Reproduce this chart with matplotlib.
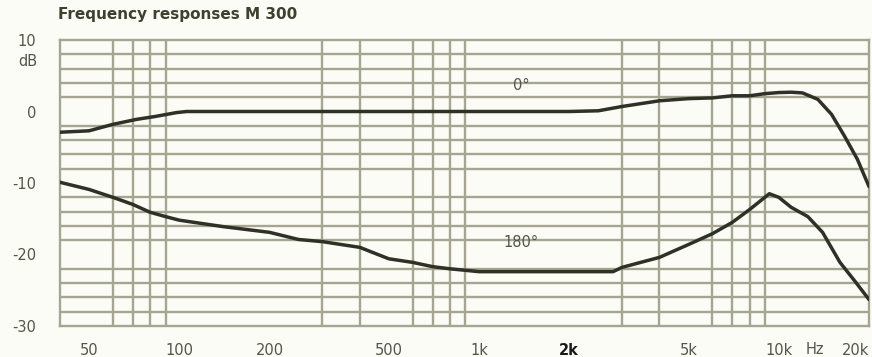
import matplotlib.pyplot as plt
from matplotlib.ticker import FixedLocator, NullFormatter

# 0 degree response (Hz, dB)
freq_0 = [40, 50, 60, 72, 83, 98, 106, 200, 500, 1000, 2000, 2500, 3000, 4000,
          5000, 6000, 7000, 8000, 9000, 10000, 11000, 12000, 13500, 15000,
          16600, 18300, 20000]
db_0 = [-2.9, -2.7, -1.8, -1.1, -0.7, -0.15, 0, 0, 0, 0, 0, 0.1, 0.7, 1.5,
        1.8, 1.9, 2.2, 2.2, 2.5, 2.65, 2.7, 2.6, 1.7, -0.4,
        -3.5, -6.7, -10.5]

# 180 degree response (Hz, dB)
freq_180 = [40, 50, 60, 70, 80, 90, 100, 140, 200, 250, 300, 400, 500, 600,
            700, 800, 1000, 2000, 2800, 3000, 4000, 5000, 6000, 7000, 8000,
            9300, 10000, 11000, 12500, 14000, 16000, 18000, 20000]
db_180 = [-9.9, -10.9, -12.0, -13.0, -14.1, -14.7, -15.2, -16.1, -16.9, -17.9,
          -18.2, -19.0, -20.6, -21.1, -21.7, -22.0, -22.4, -22.4, -22.4, -21.8,
          -20.4, -18.6, -17.1, -15.5, -13.7, -11.5, -12.0, -13.4, -14.7,
          -16.9, -21.1, -23.8, -26.3]

xtick_pos = [50, 100, 200, 500, 1000, 2000, 5000, 10000, 20000]
xtick_lab = ['50', '100', '200', '500', '1k', '2k', '5k', '10k', '20k']
ytick_pos = [10, 0, -10, -20, -30]
ytick_lab = ['10', '0', '-10', '-20', '-30']
vgrid = [50, 60, 70, 80, 90, 100, 200, 300, 400, 500, 600, 700, 800, 900,
         1000, 2000, 3000, 4000, 5000, 6000, 7000, 8000, 9000, 10000]
hgrid = list(range(-30, 11, 2))

bg = '#fbfcf6'
gridc = '#a5a592'
linec = '#2f3126'
textc = '#55554a'

fig = plt.figure(figsize=(8.72, 3.57), dpi=100, facecolor=bg)
ax = fig.add_axes([60/872, 31/357, 809/872, 286/357])
ax.set_facecolor(bg)

ax.set_xscale('log')
ax.set_xlim(40, 20000)
ax.set_ylim(-30, 10)

# grid
ax.xaxis.set_minor_locator(FixedLocator(vgrid))
ax.xaxis.set_minor_formatter(NullFormatter())
ax.yaxis.set_minor_locator(FixedLocator(hgrid))
ax.grid(which='minor', color=gridc, lw=1.7)
ax.set_axisbelow(True)
for s in ax.spines.values():
    s.set_color(gridc)
    s.set_linewidth(1.7)

ax.set_xticks(xtick_pos)
ax.set_xticklabels(xtick_lab)
ax.set_yticks(ytick_pos)
ax.set_yticklabels(ytick_lab)
ax.tick_params(which='both', length=0, labelsize=10.5, labelcolor=textc)
ax.tick_params(axis='x', pad=12)
ax.tick_params(axis='y', pad=17)
for lab in ax.get_xticklabels():
    if lab.get_text() == '2k':
        lab.set_fontweight('bold')
        lab.set_color('#1a1a1a')
    if lab.get_text() == '20k':
        lab.set_horizontalalignment('right')

ax.plot(freq_0, db_0, color=linec, lw=2.5, solid_capstyle='round',
        solid_joinstyle='round', zorder=3)
ax.plot(freq_180, db_180, color=linec, lw=2.5, solid_capstyle='round',
        solid_joinstyle='round', zorder=3)

ax.text(1380, 3.7, '0°', color=textc, fontsize=10.5, ha='center', va='center')
ax.text(1380, -18.3, '180°', color=textc, fontsize=10.5, ha='center', va='center')

fig.text(37/872, 1 - 62/357, 'dB', color=textc, fontsize=10.5, ha='right', va='center')
fig.text(815/872, 1 - 349/357, 'Hz', color=textc, fontsize=10.5, ha='center', va='center')
fig.text(58/872, 1 - 15/357, 'Frequency responses M 300', color='#3f4030',
         fontsize=11, fontweight='bold', ha='left', va='center')

fig.savefig('out.png', dpi=100, facecolor=bg)
